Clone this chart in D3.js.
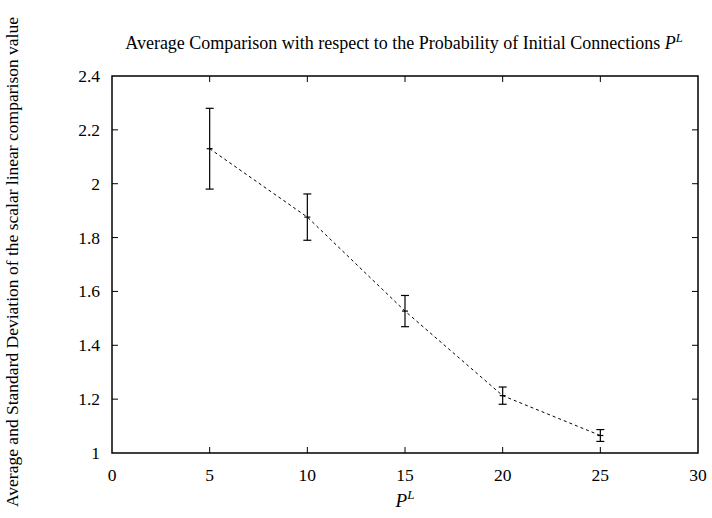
<!DOCTYPE html>
<html>
  <head>
    <meta charset="utf-8">
    <title>Average Comparison</title>
    <style media="screen">
    body{margin: 0; background: #fff}
    text{font-family: "Liberation Serif", "DejaVu Serif", serif; fill: #000}
    </style>
  </head>
  <body>
    <script src="https://d3js.org/d3.v7.min.js"></script>
    <script type="text/javascript">
      var w = 712, h = 518;

      // data
      var pl = [5, 10, 15, 20, 25];
      var avg = [2.13, 1.876, 1.527, 1.213, 1.065];
      var dev = [0.15, 0.086, 0.058, 0.032, 0.022];
      var xTicks = [0, 5, 10, 15, 20, 25, 30];
      var yTicks = [1, 1.2, 1.4, 1.6, 1.8, 2, 2.2, 2.4];

      var m = {left: 112, right: 698, top: 76, bottom: 453};

      var x = d3.scaleLinear().domain([0, 30]).range([m.left, m.right]);
      var y = d3.scaleLinear().domain([1, 2.4]).range([m.bottom, m.top]);

      var svg = d3.select('body').append('svg')
        .attr('width', w)
        .attr('height', h)

      var tick = 6;

      // ticks, mirrored on all sides (inward)
      var g = svg.append('g').attr('stroke', '#000').attr('stroke-width', 1)
      xTicks.slice(1, -1).forEach(function(t){
        g.append('line').attr('x1', x(t)).attr('x2', x(t)).attr('y1', m.bottom).attr('y2', m.bottom - tick)
        g.append('line').attr('x1', x(t)).attr('x2', x(t)).attr('y1', m.top).attr('y2', m.top + tick)
      })
      yTicks.slice(1, -1).forEach(function(t){
        g.append('line').attr('y1', y(t)).attr('y2', y(t)).attr('x1', m.left).attr('x2', m.left + tick)
        g.append('line').attr('y1', y(t)).attr('y2', y(t)).attr('x1', m.right).attr('x2', m.right - tick)
      })

      svg.selectAll('.xl').data(xTicks).enter().append('text')
        .attr('x', function(d){ return x(d) })
        .attr('y', m.bottom + 28)
        .attr('text-anchor', 'middle')
        .style('font-size', '17.5px')
        .text(function(d){ return d })

      svg.selectAll('.yl').data(yTicks).enter().append('text')
        .attr('x', m.left - 12)
        .attr('y', function(d){ return y(d) + 6 })
        .attr('text-anchor', 'end')
        .style('font-size', '17.5px')
        .text(function(d){ return d3.format('~g')(d) })

      // dashed line through the means
      var line = d3.line()
        .x(function(d, i){ return x(pl[i]) })
        .y(function(d){ return y(d) })

      svg.append('path')
        .datum(avg)
        .attr('d', line)
        .attr('fill', 'none')
        .attr('stroke', '#000')
        .attr('stroke-width', 1)
        .attr('stroke-dasharray', '3,3')

      // error bars
      var cap = 4;
      var bars = svg.append('g').attr('stroke', '#000').attr('stroke-width', 1.2)
      pl.forEach(function(p, i){
        var cx = x(p), y0 = y(avg[i] - dev[i]), y1 = y(avg[i] + dev[i]);
        bars.append('line').attr('x1', cx).attr('x2', cx).attr('y1', y0).attr('y2', y1)
        bars.append('line').attr('x1', cx - cap).attr('x2', cx + cap).attr('y1', y0).attr('y2', y0)
        bars.append('line').attr('x1', cx - cap).attr('x2', cx + cap).attr('y1', y1).attr('y2', y1)
        // point marker
        bars.append('line').attr('x1', cx - 3).attr('x2', cx + 3).attr('y1', y(avg[i])).attr('y2', y(avg[i]))
      })

      // frame
      svg.append('rect')
        .attr('x', m.left).attr('y', m.top)
        .attr('width', m.right - m.left).attr('height', m.bottom - m.top)
        .attr('fill', 'none').attr('stroke', '#000').attr('stroke-width', 1.5)

      // title
      var title = svg.append('text')
        .attr('x', 404).attr('y', 49)
        .attr('text-anchor', 'middle')
        .style('font-size', '18px')
      title.append('tspan').text('Average Comparison with respect to the Probability of Initial Connections ')
      title.append('tspan').style('font-style', 'italic').text('P')
      title.append('tspan').style('font-style', 'italic').style('font-size', '12.5px').attr('dy', -7).text('L')

      // x label
      var xl = svg.append('text')
        .attr('x', x(15)).attr('y', 507)
        .attr('text-anchor', 'middle')
        .style('font-size', '19px')
      xl.append('tspan').style('font-style', 'italic').text('P')
      xl.append('tspan').style('font-style', 'italic').style('font-size', '13px').attr('dy', -8).text('L')

      // y label
      svg.append('text')
        .attr('transform', 'translate(18,' + 262 + ') rotate(-90)')
        .attr('text-anchor', 'middle')
        .style('font-size', '17.5px')
        .text('Average and Standard Deviation of the scalar linear comparison value')

    </script>
  </body>
</html>
